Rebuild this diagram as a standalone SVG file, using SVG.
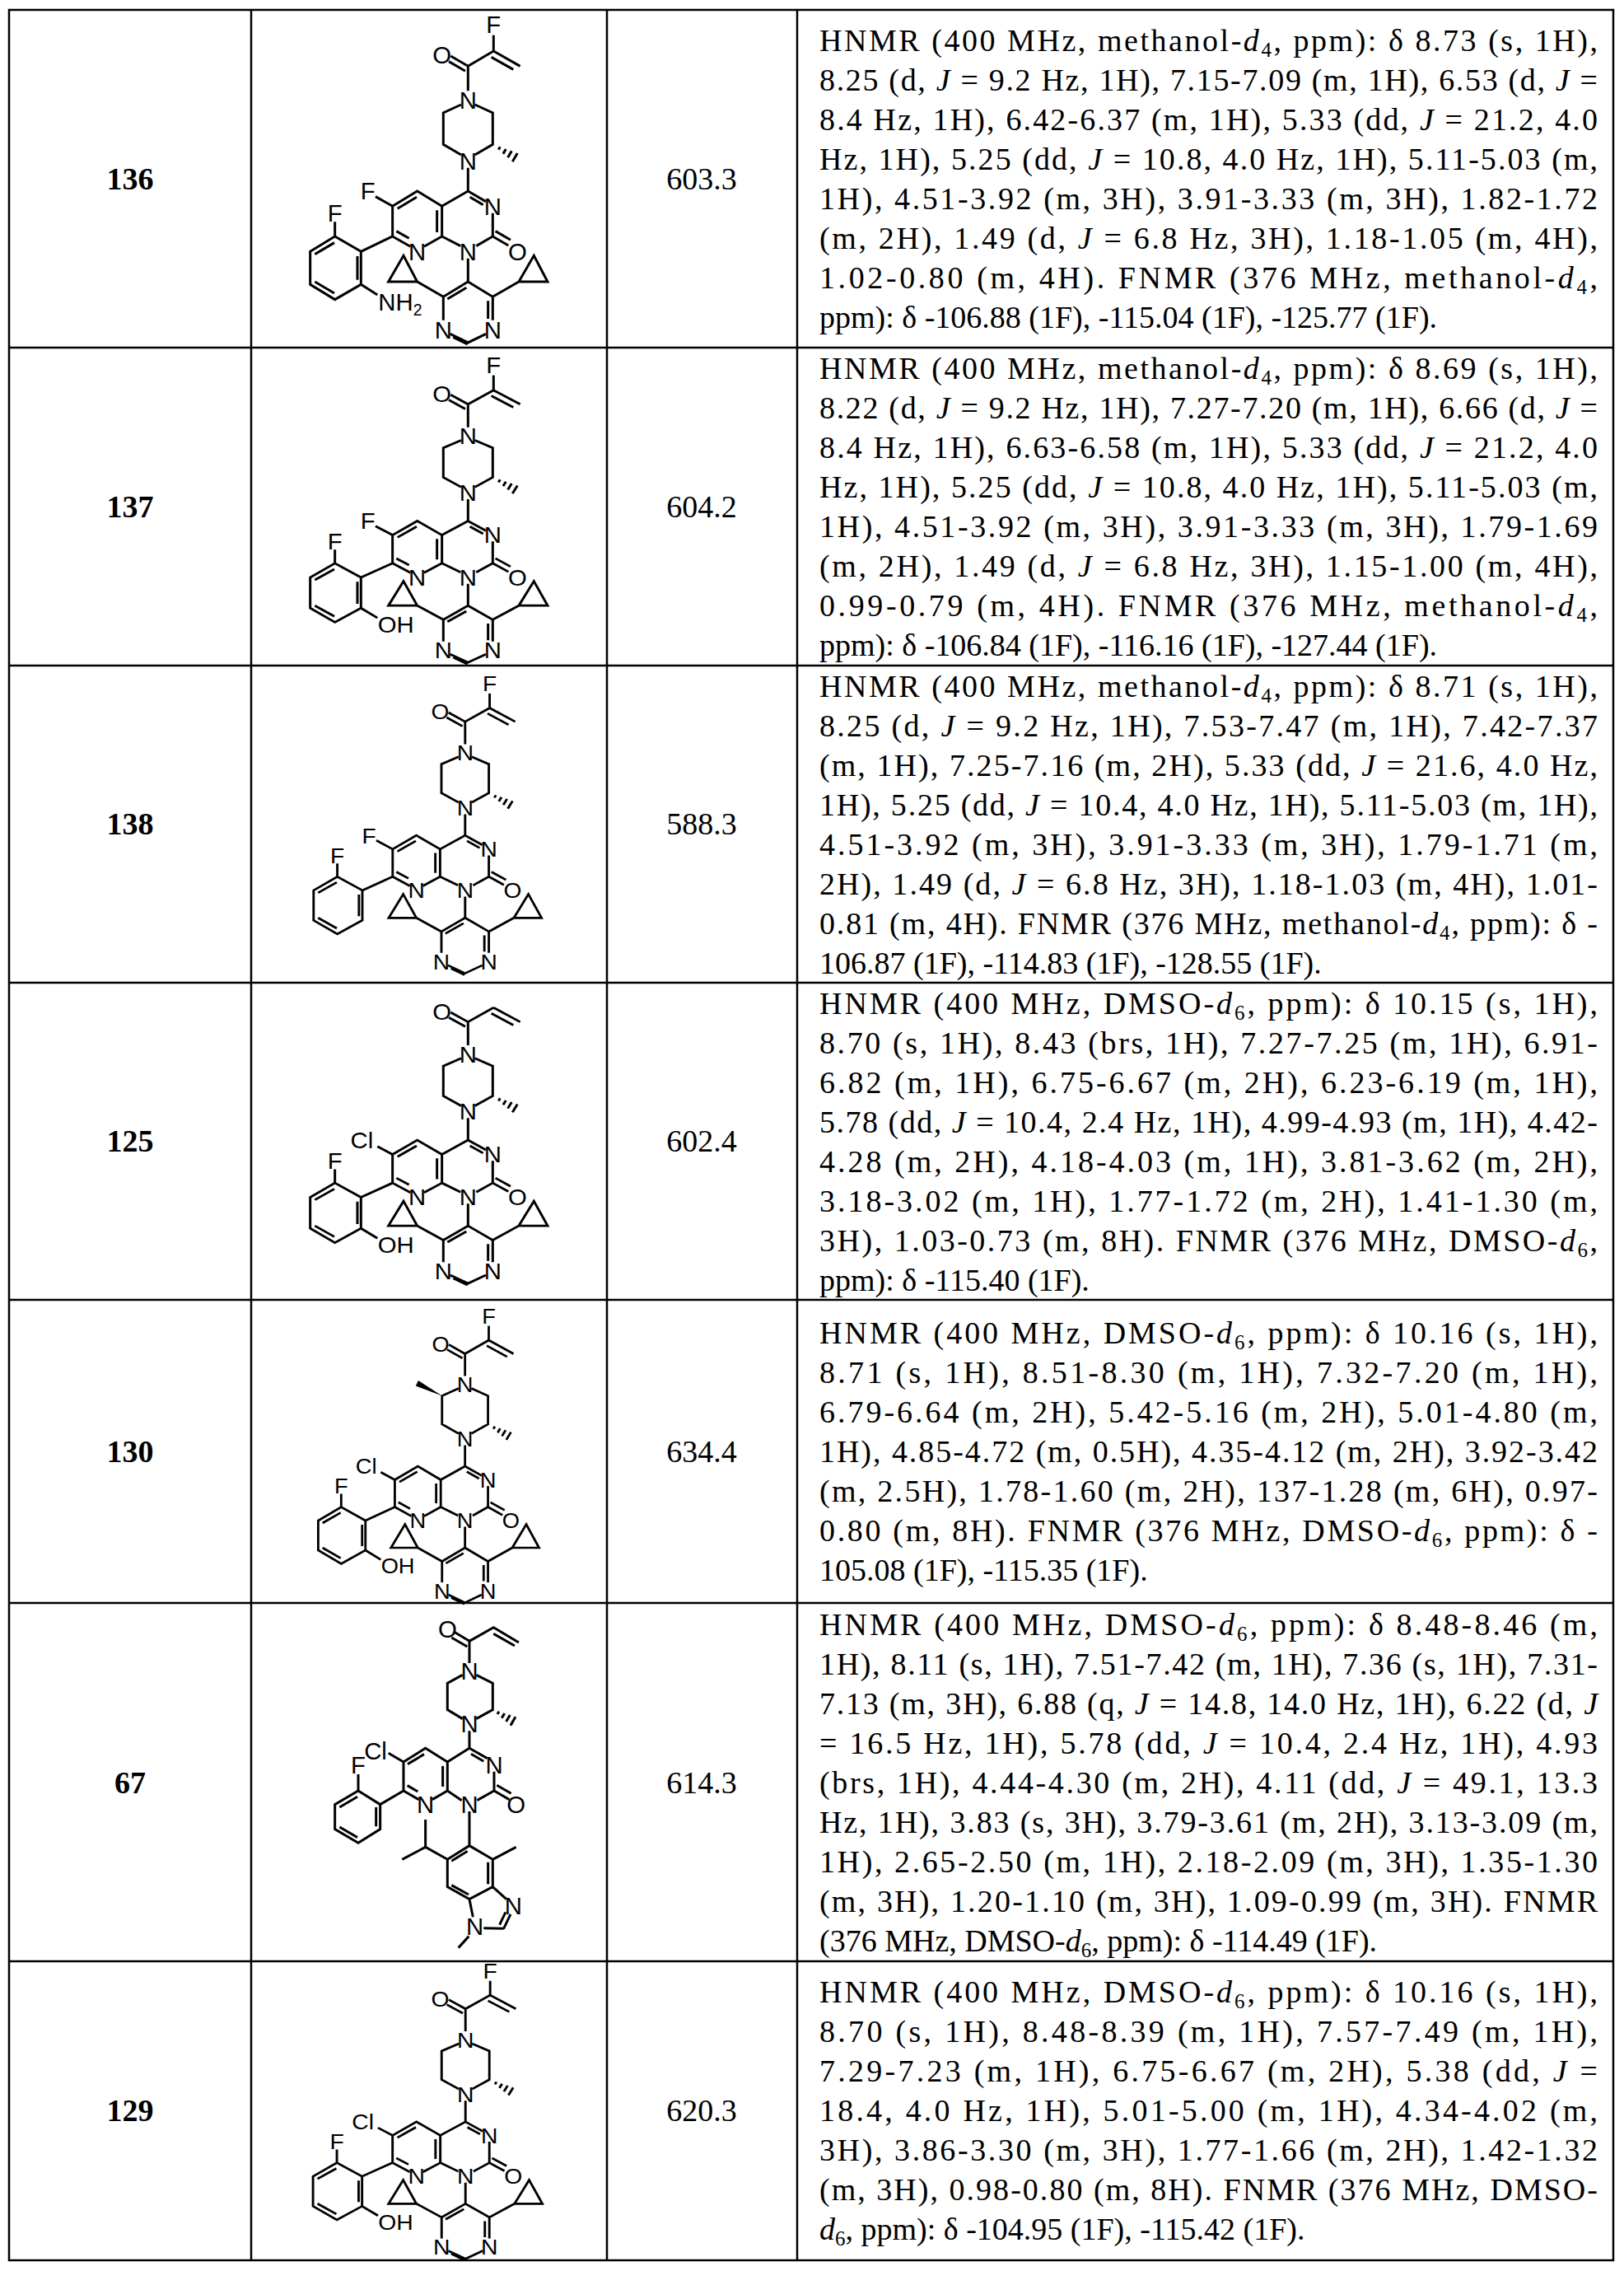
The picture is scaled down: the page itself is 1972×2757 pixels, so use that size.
<svg xmlns="http://www.w3.org/2000/svg" xmlns:xlink="http://www.w3.org/1999/xlink" width="1972" height="2757" viewBox="0 0 1972 2757">
<style>
.grid{stroke:#000;stroke-width:2.5;fill:none}
.b{stroke:#000;stroke-width:9;fill:none;stroke-linecap:butt;stroke-linejoin:miter}
.l{font-family:"Liberation Sans",Arial,sans-serif;font-size:88px;text-anchor:middle;fill:#000}
.t{font-family:"Liberation Serif","Times New Roman",serif;font-size:38px;fill:#000}
.id{font-family:"Liberation Serif","Times New Roman",serif;font-size:38px;font-weight:bold;text-anchor:middle;fill:#000}
.mw{font-family:"Liberation Serif","Times New Roman",serif;font-size:38px;text-anchor:middle;fill:#000}
.i{font-style:italic}
</style>
<defs>
<g id="core">
<path class="b" d="M808,150 L715,205 M808,150 L905,205 M800,172 L880,217 M715,205 L652,168 M705,223 L645,188 M715,205 L715,295
M690,345 L625,375 L625,490 L690,528 M740,528 L805,490 L805,375 L740,345
M829,504 l-3,5 l6,-10 M848,515 l-5,9 l10,-17 M867,526 l-7,12 l14,-24 M886,537 l-9,16 l18,-31 M715,575 L715,660
M715,660 L780,698 M722,682 L770,710 M805,740 L805,825 M805,825 L862,858 M815,806 L870,838 M805,825 L745,860 M688,860 L620,825 M620,825 L620,715 M602,810 L602,730 M620,715 L715,660
M620,715 L530,660 L440,715 M528,682 L458,724 M440,715 L440,825 M440,825 L505,862 M454,806 L500,832 M555,862 L620,825
M440,825 L325,880 M325,880 L230,825 L140,880 L140,1000 L230,1055 L325,1000 L325,880 M312,897 L312,983 M157,890 L228,848 M157,990 L228,1032 M230,825 L230,772
M715,905 L715,990 L625,1045 L625,1130 M650,1180 L715,1212 L780,1180 M805,1130 L805,1045 L715,990 M709,1012 L640,1053 M661,1192 L713,1218 M788,1125 L788,1060
M625,1045 L530,990 M530,990 L425,990 L480,895 Z M805,1045 L900,990 M900,990 L1005,990 L955,895 Z"/>
<text class="l" x="620" y="196">O</text>
<text class="l" x="715" y="361">N</text>
<text class="l" x="715" y="581">N</text>
<text class="l" x="805" y="746">N</text>
<text class="l" x="895" y="911">O</text>
<text class="l" x="715" y="911">N</text>
<text class="l" x="530" y="911">N</text>
<text class="l" x="230" y="771">F</text>
<text class="l" x="625" y="1196">N</text>
<text class="l" x="805" y="1196">N</text>
</g>
<g id="acrF"><path class="b" d="M808,150 L808,92"/><text class="l" x="808" y="84">F</text></g>
<g id="r6F"><path class="b" d="M440,715 L378,680"/><text class="l" x="350" y="691">F</text></g>
<g id="r6Cl"><path class="b" d="M440,715 L385,684"/><text class="l" x="328" y="691">Cl</text></g>
<g id="nh2"><path class="b" d="M325,1000 L385,1038"/><text class="l" x="388" y="1094" style="text-anchor:start">NH<tspan font-size="58" dy="18">2</tspan></text></g>
<g id="oh"><path class="b" d="M325,1000 L385,1038"/><text class="l" x="386" y="1094" style="text-anchor:start">OH</text></g>
<g id="wedge"><polygon points="625,375 532,313 522,335" fill="#000"/></g>
</defs>

<g id="table">
<rect class="grid" x="11" y="12" width="1948" height="2732"/>
<path class="grid" d="M305,12 V2744 M737,12 V2744 M968,12 V2744 M11,422 H1959 M11,808 H1959 M11,1193 H1959 M11,1578 H1959 M11,1946 H1959 M11,2381 H1959"/>
</g>

<g id="row136">
<text class="id" x="158" y="230">136</text>
<text class="mw" x="852" y="230">603.3</text>
<g transform="translate(330,12) scale(0.3333,0.3333)"><use xlink:href="#core"/><use xlink:href="#acrF"/><use xlink:href="#r6F"/><use xlink:href="#nh2"/></g>
<text class="t" x="995" y="62" textLength="945" lengthAdjust="spacing">HNMR (400 MHz, methanol-<tspan class="i">d</tspan><tspan font-size="25" dy="7">4</tspan><tspan dy="-7">, ppm): δ 8.73 (s, 1H),</tspan></text>
<text class="t" x="995" y="110" textLength="945" lengthAdjust="spacing">8.25 (d, <tspan class="i">J</tspan> = 9.2 Hz, 1H), 7.15-7.09 (m, 1H), 6.53 (d, <tspan class="i">J</tspan> =</text>
<text class="t" x="995" y="158" textLength="945" lengthAdjust="spacing">8.4 Hz, 1H), 6.42-6.37 (m, 1H), 5.33 (dd, <tspan class="i">J</tspan> = 21.2, 4.0</text>
<text class="t" x="995" y="206" textLength="945" lengthAdjust="spacing">Hz, 1H), 5.25 (dd, <tspan class="i">J</tspan> = 10.8, 4.0 Hz, 1H), 5.11-5.03 (m,</text>
<text class="t" x="995" y="254" textLength="945" lengthAdjust="spacing">1H), 4.51-3.92 (m, 3H), 3.91-3.33 (m, 3H), 1.82-1.72</text>
<text class="t" x="995" y="302" textLength="945" lengthAdjust="spacing">(m, 2H), 1.49 (d, <tspan class="i">J</tspan> = 6.8 Hz, 3H), 1.18-1.05 (m, 4H),</text>
<text class="t" x="995" y="350" textLength="945" lengthAdjust="spacing">1.02-0.80 (m, 4H). FNMR (376 MHz, methanol-<tspan class="i">d</tspan><tspan font-size="25" dy="7">4</tspan><tspan dy="-7">,</tspan></text>
<text class="t" x="995" y="398">ppm): δ -106.88 (1F), -115.04 (1F), -125.77 (1F).</text>
</g>

<g id="row137">
<text class="id" x="158" y="628">137</text>
<text class="mw" x="852" y="628">604.2</text>
<g transform="translate(330,427) scale(0.3333,0.3113)"><use xlink:href="#core"/><use xlink:href="#acrF"/><use xlink:href="#r6F"/><use xlink:href="#oh"/></g>
<text class="t" x="995" y="460" textLength="945" lengthAdjust="spacing">HNMR (400 MHz, methanol-<tspan class="i">d</tspan><tspan font-size="25" dy="7">4</tspan><tspan dy="-7">, ppm): δ 8.69 (s, 1H),</tspan></text>
<text class="t" x="995" y="508" textLength="945" lengthAdjust="spacing">8.22 (d, <tspan class="i">J</tspan> = 9.2 Hz, 1H), 7.27-7.20 (m, 1H), 6.66 (d, <tspan class="i">J</tspan> =</text>
<text class="t" x="995" y="556" textLength="945" lengthAdjust="spacing">8.4 Hz, 1H), 6.63-6.58 (m, 1H), 5.33 (dd, <tspan class="i">J</tspan> = 21.2, 4.0</text>
<text class="t" x="995" y="604" textLength="945" lengthAdjust="spacing">Hz, 1H), 5.25 (dd, <tspan class="i">J</tspan> = 10.8, 4.0 Hz, 1H), 5.11-5.03 (m,</text>
<text class="t" x="995" y="652" textLength="945" lengthAdjust="spacing">1H), 4.51-3.92 (m, 3H), 3.91-3.33 (m, 3H), 1.79-1.69</text>
<text class="t" x="995" y="700" textLength="945" lengthAdjust="spacing">(m, 2H), 1.49 (d, <tspan class="i">J</tspan> = 6.8 Hz, 3H), 1.15-1.00 (m, 4H),</text>
<text class="t" x="995" y="748" textLength="945" lengthAdjust="spacing">0.99-0.79 (m, 4H). FNMR (376 MHz, methanol-<tspan class="i">d</tspan><tspan font-size="25" dy="7">4</tspan><tspan dy="-7">,</tspan></text>
<text class="t" x="995" y="796">ppm): δ -106.84 (1F), -116.16 (1F), -127.44 (1F).</text>
</g>

<g id="row138">
<text class="id" x="158" y="1013">138</text>
<text class="mw" x="852" y="1013">588.3</text>
<g transform="translate(336,814) scale(0.32,0.3033)"><use xlink:href="#core"/><use xlink:href="#acrF"/><use xlink:href="#r6F"/></g>
<text class="t" x="995" y="846" textLength="945" lengthAdjust="spacing">HNMR (400 MHz, methanol-<tspan class="i">d</tspan><tspan font-size="25" dy="7">4</tspan><tspan dy="-7">, ppm): δ 8.71 (s, 1H),</tspan></text>
<text class="t" x="995" y="894" textLength="945" lengthAdjust="spacing">8.25 (d, <tspan class="i">J</tspan> = 9.2 Hz, 1H), 7.53-7.47 (m, 1H), 7.42-7.37</text>
<text class="t" x="995" y="942" textLength="945" lengthAdjust="spacing">(m, 1H), 7.25-7.16 (m, 2H), 5.33 (dd, <tspan class="i">J</tspan> = 21.6, 4.0 Hz,</text>
<text class="t" x="995" y="990" textLength="945" lengthAdjust="spacing">1H), 5.25 (dd, <tspan class="i">J</tspan> = 10.4, 4.0 Hz, 1H), 5.11-5.03 (m, 1H),</text>
<text class="t" x="995" y="1038" textLength="945" lengthAdjust="spacing">4.51-3.92 (m, 3H), 3.91-3.33 (m, 3H), 1.79-1.71 (m,</text>
<text class="t" x="995" y="1086" textLength="945" lengthAdjust="spacing">2H), 1.49 (d, <tspan class="i">J</tspan> = 6.8 Hz, 3H), 1.18-1.03 (m, 4H), 1.01-</text>
<text class="t" x="995" y="1134" textLength="945" lengthAdjust="spacing">0.81 (m, 4H). FNMR (376 MHz, methanol-<tspan class="i">d</tspan><tspan font-size="25" dy="7">4</tspan><tspan dy="-7">, ppm): δ -</tspan></text>
<text class="t" x="995" y="1182">106.87 (1F), -114.83 (1F), -128.55 (1F).</text>
</g>

<g id="row125">
<text class="id" x="158" y="1398">125</text>
<text class="mw" x="852" y="1398">602.4</text>
<g transform="translate(330,1176) scale(0.3333,0.3153)"><use xlink:href="#core"/><use xlink:href="#r6Cl"/><use xlink:href="#oh"/></g>
<text class="t" x="995" y="1231" textLength="945" lengthAdjust="spacing">HNMR (400 MHz, DMSO-<tspan class="i">d</tspan><tspan font-size="25" dy="7">6</tspan><tspan dy="-7">, ppm): δ 10.15 (s, 1H),</tspan></text>
<text class="t" x="995" y="1279" textLength="945" lengthAdjust="spacing">8.70 (s, 1H), 8.43 (brs, 1H), 7.27-7.25 (m, 1H), 6.91-</text>
<text class="t" x="995" y="1327" textLength="945" lengthAdjust="spacing">6.82 (m, 1H), 6.75-6.67 (m, 2H), 6.23-6.19 (m, 1H),</text>
<text class="t" x="995" y="1375" textLength="945" lengthAdjust="spacing">5.78 (dd, <tspan class="i">J</tspan> = 10.4, 2.4 Hz, 1H), 4.99-4.93 (m, 1H), 4.42-</text>
<text class="t" x="995" y="1423" textLength="945" lengthAdjust="spacing">4.28 (m, 2H), 4.18-4.03 (m, 1H), 3.81-3.62 (m, 2H),</text>
<text class="t" x="995" y="1471" textLength="945" lengthAdjust="spacing">3.18-3.02 (m, 1H), 1.77-1.72 (m, 2H), 1.41-1.30 (m,</text>
<text class="t" x="995" y="1519" textLength="945" lengthAdjust="spacing">3H), 1.03-0.73 (m, 8H). FNMR (376 MHz, DMSO-<tspan class="i">d</tspan><tspan font-size="25" dy="7">6</tspan><tspan dy="-7">,</tspan></text>
<text class="t" x="995" y="1567">ppm): δ -115.40 (1F).</text>
</g>

<g id="row130">
<text class="id" x="158" y="1775">130</text>
<text class="mw" x="852" y="1775">634.4</text>
<g transform="translate(343,1582) scale(0.31,0.30)"><use xlink:href="#core"/><use xlink:href="#acrF"/><use xlink:href="#r6Cl"/><use xlink:href="#oh"/><use xlink:href="#wedge"/></g>
<text class="t" x="995" y="1631" textLength="945" lengthAdjust="spacing">HNMR (400 MHz, DMSO-<tspan class="i">d</tspan><tspan font-size="25" dy="7">6</tspan><tspan dy="-7">, ppm): δ 10.16 (s, 1H),</tspan></text>
<text class="t" x="995" y="1679" textLength="945" lengthAdjust="spacing">8.71 (s, 1H), 8.51-8.30 (m, 1H), 7.32-7.20 (m, 1H),</text>
<text class="t" x="995" y="1727" textLength="945" lengthAdjust="spacing">6.79-6.64 (m, 2H), 5.42-5.16 (m, 2H), 5.01-4.80 (m,</text>
<text class="t" x="995" y="1775" textLength="945" lengthAdjust="spacing">1H), 4.85-4.72 (m, 0.5H), 4.35-4.12 (m, 2H), 3.92-3.42</text>
<text class="t" x="995" y="1823" textLength="945" lengthAdjust="spacing">(m, 2.5H), 1.78-1.60 (m, 2H), 137-1.28 (m, 6H), 0.97-</text>
<text class="t" x="995" y="1871" textLength="945" lengthAdjust="spacing">0.80 (m, 8H). FNMR (376 MHz, DMSO-<tspan class="i">d</tspan><tspan font-size="25" dy="7">6</tspan><tspan dy="-7">, ppm): δ -</tspan></text>
<text class="t" x="995" y="1919">105.08 (1F), -115.35 (1F).</text>
</g>

<g id="row67">
<text class="id" x="158" y="2177">67</text>
<text class="mw" x="852" y="2177">614.3</text>
<g transform="translate(330,1944) scale(0.3333,0.3333)">
<path class="b" d="M720,145 L665,112 M712,165 L655,132 M720,145 L808,95 L900,150 M808,118 L885,162 M720,145 L720,225
M695,268 L640,298 L640,395 L695,428 M745,428 L805,395 L805,298 L745,268
M825,406 l-3,5 l6,-10 M843,416 l-5,9 l10,-17 M861,426 l-7,12 l14,-24 M879,436 l-9,16 l18,-31 M720,472 L720,535
M720,535 L785,572 M726,556 L772,583 M810,620 L810,690 M810,690 L865,722 M820,670 L872,700 M810,690 L748,725 M692,725 L640,690 L640,585 M623,675 L623,600 M640,585 L720,535
M640,585 L560,535 L480,585 M555,557 L495,593 M480,585 L480,690 M480,690 L535,722 M494,671 L532,693 M585,722 L640,690 M480,585 L425,553
M480,690 L395,740 M395,740 L315,690 L230,740 L230,830 L315,880 L395,830 L395,740 M380,750 L380,820 M247,750 L312,712 M247,822 L312,860 M315,690 L315,630
M720,765 L720,890 M720,890 L640,940 L640,1040 L720,1085 L805,1040 L805,940 L720,890 M713,910 L655,946 M655,1034 L717,1068 M788,1030 L788,950
M640,940 L560,895 L560,795 M560,895 L475,940 M805,940 L890,895
M720,1085 L733,1150 M805,1040 L855,1085 M870,1140 L845,1192 M852,1132 L830,1178 M845,1192 L772,1190 M718,1220 L680,1262"/>
<text class="l" x="640" y="131">O</text>
<text class="l" x="720" y="286">N</text>
<text class="l" x="720" y="476">N</text>
<text class="l" x="810" y="626">N</text>
<text class="l" x="890" y="771">O</text>
<text class="l" x="720" y="771">N</text>
<text class="l" x="560" y="771">N</text>
<text class="l" x="378" y="577">Cl</text>
<text class="l" x="315" y="626">F</text>
<text class="l" x="740" y="1216">N</text>
<text class="l" x="880" y="1141">N</text>
</g>
<text class="t" x="995" y="1985" textLength="945" lengthAdjust="spacing">HNMR (400 MHz, DMSO-<tspan class="i">d</tspan><tspan font-size="25" dy="7">6</tspan><tspan dy="-7">, ppm): δ 8.48-8.46 (m,</tspan></text>
<text class="t" x="995" y="2033" textLength="945" lengthAdjust="spacing">1H), 8.11 (s, 1H), 7.51-7.42 (m, 1H), 7.36 (s, 1H), 7.31-</text>
<text class="t" x="995" y="2081" textLength="945" lengthAdjust="spacing">7.13 (m, 3H), 6.88 (q, <tspan class="i">J</tspan> = 14.8, 14.0 Hz, 1H), 6.22 (d, <tspan class="i">J</tspan></text>
<text class="t" x="995" y="2129" textLength="945" lengthAdjust="spacing">= 16.5 Hz, 1H), 5.78 (dd, <tspan class="i">J</tspan> = 10.4, 2.4 Hz, 1H), 4.93</text>
<text class="t" x="995" y="2177" textLength="945" lengthAdjust="spacing">(brs, 1H), 4.44-4.30 (m, 2H), 4.11 (dd, <tspan class="i">J</tspan> = 49.1, 13.3</text>
<text class="t" x="995" y="2225" textLength="945" lengthAdjust="spacing">Hz, 1H), 3.83 (s, 3H), 3.79-3.61 (m, 2H), 3.13-3.09 (m,</text>
<text class="t" x="995" y="2273" textLength="945" lengthAdjust="spacing">1H), 2.65-2.50 (m, 1H), 2.18-2.09 (m, 3H), 1.35-1.30</text>
<text class="t" x="995" y="2321" textLength="945" lengthAdjust="spacing">(m, 3H), 1.20-1.10 (m, 3H), 1.09-0.99 (m, 3H). FNMR</text>
<text class="t" x="995" y="2369">(376 MHz, DMSO-<tspan class="i">d</tspan><tspan font-size="25" dy="7">6</tspan><tspan dy="-7">, ppm): δ -114.49 (1F).</tspan></text>
</g>

<g id="row129">
<text class="id" x="158" y="2575">129</text>
<text class="mw" x="852" y="2575">620.3</text>
<g transform="translate(335,2377) scale(0.322,0.3013)"><use xlink:href="#core"/><use xlink:href="#acrF"/><use xlink:href="#r6Cl"/><use xlink:href="#oh"/></g>
<text class="t" x="995" y="2431" textLength="945" lengthAdjust="spacing">HNMR (400 MHz, DMSO-<tspan class="i">d</tspan><tspan font-size="25" dy="7">6</tspan><tspan dy="-7">, ppm): δ 10.16 (s, 1H),</tspan></text>
<text class="t" x="995" y="2479" textLength="945" lengthAdjust="spacing">8.70 (s, 1H), 8.48-8.39 (m, 1H), 7.57-7.49 (m, 1H),</text>
<text class="t" x="995" y="2527" textLength="945" lengthAdjust="spacing">7.29-7.23 (m, 1H), 6.75-6.67 (m, 2H), 5.38 (dd, <tspan class="i">J</tspan> =</text>
<text class="t" x="995" y="2575" textLength="945" lengthAdjust="spacing">18.4, 4.0 Hz, 1H), 5.01-5.00 (m, 1H), 4.34-4.02 (m,</text>
<text class="t" x="995" y="2623" textLength="945" lengthAdjust="spacing">3H), 3.86-3.30 (m, 3H), 1.77-1.66 (m, 2H), 1.42-1.32</text>
<text class="t" x="995" y="2671" textLength="945" lengthAdjust="spacing">(m, 3H), 0.98-0.80 (m, 8H). FNMR (376 MHz, DMSO-</text>
<text class="t" x="995" y="2719"><tspan class="i">d</tspan><tspan font-size="25" dy="7">6</tspan><tspan dy="-7">, ppm): δ -104.95 (1F), -115.42 (1F).</tspan></text>
</g>
</svg>
